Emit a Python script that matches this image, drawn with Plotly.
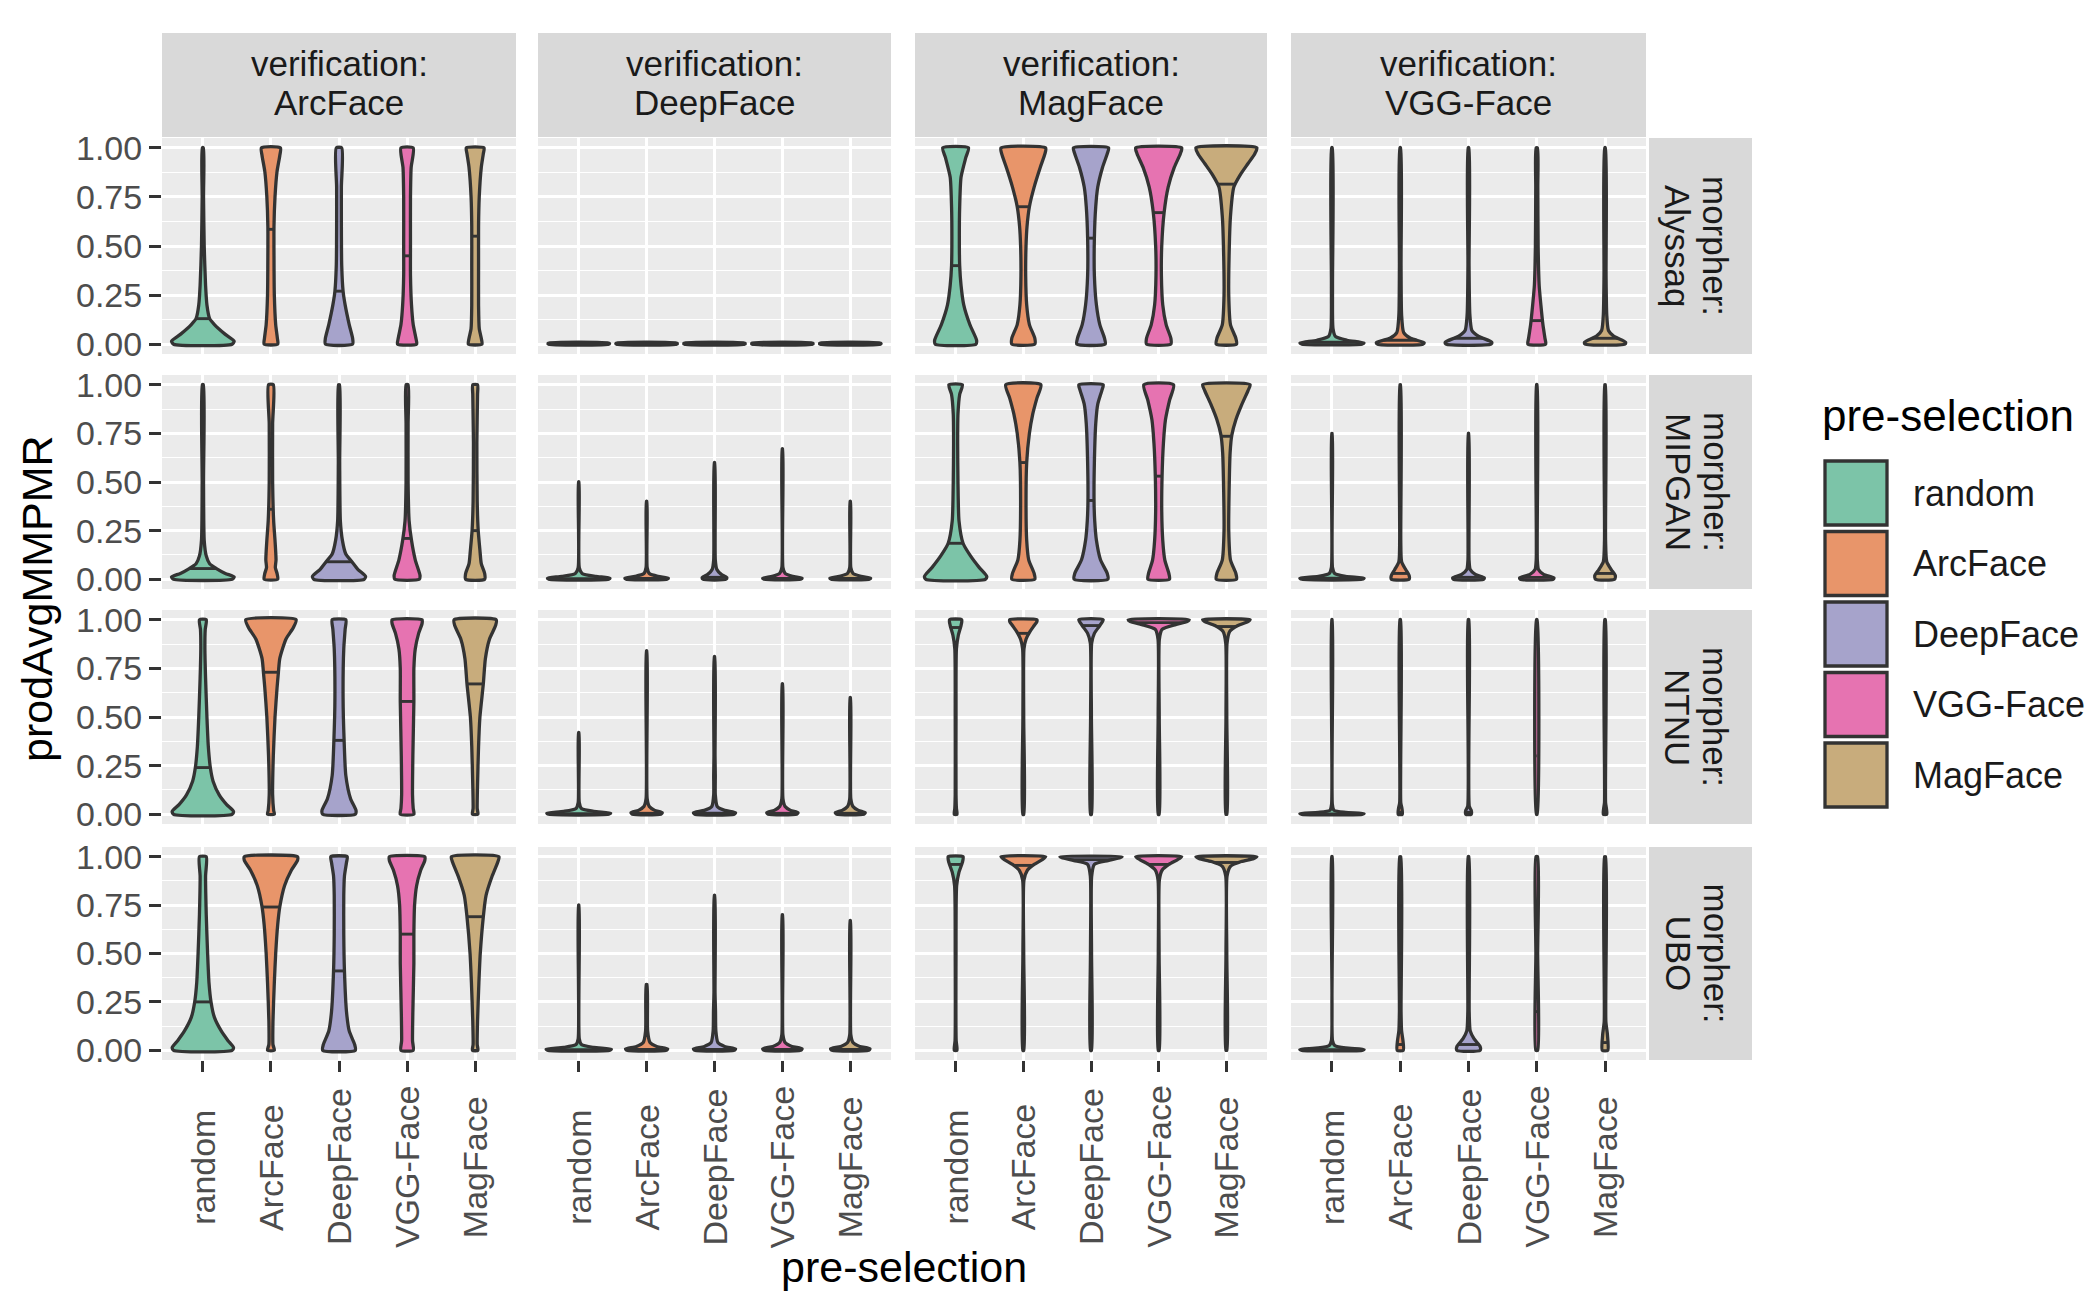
import numpy as np
import plotly.graph_objects as go

# ---------------- data ----------------
PRESEL = ["random", "ArcFace", "DeepFace", "VGG-Face", "MagFace"]
VERIF = ["ArcFace", "DeepFace", "MagFace", "VGG-Face"]
MORPHER = ["Alyssaq", "MIPGAN", "NTNU", "UBO"]
COLORS = ["#7CC4A8", "#E8956A", "#A6A3CB", "#E673B1", "#C8AC7C"]
Y_TICKS = [0, 0.25, 0.5, 0.75, 1.0]
Y_TICK_TEXT = ["0.00", "0.25", "0.50", "0.75", "1.00"]

# violin outlines: [value, half-width] pairs (half-width in category units)
# verification: ArcFace
ARC_ALY = [
    [[0, .43], [.015, .46], [.05, .33], [.1, .17], [.13, .1], [.2, .06], [.3, .04], [.5, .02], [.75, .01], [1, .008]],
    [[0, .1], [.03, .095], [.1, .07], [.25, .05], [.45, .045], [.6, .045], [.75, .06], [.88, .09], [.96, .13], [1, .14]],
    [[0, .2], [.03, .2], [.1, .15], [.2, .09], [.27, .06], [.4, .04], [.6, .035], [.8, .035], [1, .04]],
    [[0, .14], [.03, .13], [.1, .09], [.2, .065], [.35, .05], [.5, .05], [.75, .05], [.9, .06], [1, .09]],
    [[0, .1], [.03, .09], [.08, .06], [.2, .05], [.4, .05], [.6, .05], [.75, .06], [.9, .09], [.97, .12], [1, .13]],
]
ARC_ALY_MED = [0.13, 0.585, 0.27, 0.45, 0.55]
ARC_MIP = [
    [[0, .43], [.012, .46], [.03, .33], [.055, .2], [.08, .1], [.12, .05], [.2, .02], [.5, .01], [1, .008]],
    [[0, .1], [.03, .09], [.06, .065], [.1, .075], [.2, .06], [.3, .04], [.5, .025], [.8, .025], [1, .035]],
    [[0, .37], [.015, .39], [.05, .28], [.09, .19], [.13, .1], [.2, .05], [.3, .02], [.6, .01], [1, .008]],
    [[0, .18], [.02, .19], [.1, .12], [.2, .065], [.3, .03], [.5, .015], [.8, .015], [1, .015]],
    [[0, .14], [.03, .14], [.08, .09], [.15, .07], [.25, .045], [.4, .03], [.7, .025], [.95, .035], [1, .035]],
]
ARC_MIP_MED = [0.055, 0.36, 0.09, 0.21, 0.25]
ARC_NTNU = [
    [[0, .43], [.015, .45], [.05, .35], [.1, .24], [.17, .15], [.24, .11], [.35, .08], [.5, .06], [.7, .04], [.85, .03], [.95, .035], [1, .05]],
    [[0, .05], [.02, .04], [.1, .025], [.3, .035], [.5, .06], [.65, .09], [.73, .11], [.8, .13], [.9, .22], [.96, .33], [1, .37]],
    [[0, .24], [.02, .25], [.08, .17], [.2, .1], [.38, .075], [.6, .06], [.85, .07], [.95, .09], [1, .1]],
    [[0, .1], [.03, .09], [.1, .08], [.3, .085], [.58, .1], [.75, .1], [.85, .12], [.93, .17], [.98, .22], [1, .22]],
    [[0, .04], [.03, .03], [.15, .035], [.35, .05], [.5, .07], [.67, .12], [.8, .15], [.9, .21], [.97, .3], [1, .31]],
]
ARC_NTNU_MED = [0.24, 0.73, 0.38, 0.58, 0.67]
ARC_UBO = [
    [[0, .43], [.015, .45], [.05, .37], [.1, .27], [.17, .17], [.25, .12], [.35, .09], [.5, .07], [.7, .05], [.9, .04], [1, .05]],
    [[0, .05], [.03, .03], [.15, .03], [.35, .05], [.5, .07], [.65, .1], [.74, .13], [.85, .2], [.93, .3], [.98, .39], [1, .39]],
    [[0, .24], [.03, .23], [.1, .15], [.2, .11], [.41, .08], [.6, .07], [.8, .07], [.9, .08], [.97, .11], [1, .12]],
    [[0, .09], [.05, .08], [.2, .085], [.45, .1], [.6, .1], [.75, .11], [.85, .14], [.93, .2], [.98, .26], [1, .26]],
    [[0, .04], [.03, .03], [.15, .035], [.35, .055], [.5, .075], [.69, .12], [.8, .16], [.9, .25], [.97, .33], [1, .35]],
]
ARC_UBO_MED = [0.25, 0.74, 0.41, 0.6, 0.69]

# verification: DeepFace
DEEP_ALY = [
    [[0, .45], [.005, .45]],
    [[0, .45], [.005, .45]],
    [[0, .45], [.005, .45]],
    [[0, .45], [.005, .45]],
    [[0, .45], [.005, .45]],
]
DEEP_ALY_MED = [0, 0, 0, 0, 0]
DEEP_MIP = [
    [[0, .44], [.006, .46], [.015, .25], [.03, .05], [.06, .008], [.5, .004]],
    [[0, .3], [.006, .32], [.015, .17], [.03, .04], [.06, .008], [.4, .004]],
    [[0, .17], [.01, .18], [.025, .1], [.05, .035], [.1, .012], [.6, .004]],
    [[0, .27], [.006, .29], [.015, .15], [.03, .04], [.06, .008], [.67, .004]],
    [[0, .28], [.006, .3], [.015, .16], [.03, .04], [.06, .008], [.4, .004]],
]
DEEP_MIP_MED = [0.003, 0.004, 0.01, 0.004, 0.004]
DEEP_NTNU = [
    [[0, .44], [.006, .47], [.015, .22], [.03, .04], [.06, .008], [.42, .004]],
    [[0, .21], [.008, .23], [.02, .12], [.04, .04], [.08, .008], [.84, .004]],
    [[0, .29], [.008, .31], [.02, .15], [.04, .04], [.1, .012], [.2, .012], [.3, .008], [.81, .004]],
    [[0, .21], [.008, .23], [.02, .12], [.04, .04], [.08, .008], [.67, .004]],
    [[0, .2], [.008, .22], [.02, .12], [.04, .04], [.08, .008], [.6, .004]],
]
DEEP_NTNU_MED = [0.003, 0.005, 0.005, 0.005, 0.005]
DEEP_UBO = [
    [[0, .45], [.006, .48], [.015, .22], [.03, .04], [.06, .008], [.75, .004]],
    [[0, .29], [.008, .31], [.02, .15], [.04, .05], [.1, .015], [.34, .006]],
    [[0, .29], [.008, .31], [.02, .15], [.04, .05], [.1, .02], [.2, .015], [.3, .008], [.8, .004]],
    [[0, .27], [.008, .29], [.02, .14], [.04, .04], [.08, .008], [.7, .004]],
    [[0, .27], [.008, .29], [.02, .14], [.04, .04], [.08, .008], [.67, .004]],
]
DEEP_UBO_MED = [0.003, 0.005, 0.005, 0.005, 0.005]

# verification: MagFace
MAG_ALY = [
    [[0, .3], [.02, .31], [.1, .21], [.2, .12], [.3, .08], [.4, .06], [.55, .055], [.7, .06], [.85, .08], [.95, .15], [1, .19]],
    [[0, .17], [.03, .17], [.1, .09], [.2, .05], [.35, .035], [.5, .04], [.6, .055], [.7, .09], [.8, .16], [.9, .25], [.97, .32], [1, .33]],
    [[0, .21], [.03, .2], [.1, .13], [.2, .08], [.35, .05], [.54, .05], [.7, .07], [.8, .1], [.9, .17], [.97, .24], [1, .26]],
    [[0, .18], [.03, .18], [.1, .11], [.2, .06], [.35, .04], [.5, .045], [.67, .08], [.8, .14], [.9, .23], [.97, .32], [1, .34]],
    [[0, .15], [.03, .14], [.1, .06], [.25, .035], [.45, .04], [.65, .06], [.8, .11], [.86, .2], [.92, .32], [.97, .42], [1, .45]],
]
MAG_ALY_MED = [0.40, 0.70, 0.54, 0.67, 0.815]
MAG_MIP = [
    [[0, .44], [.015, .46], [.06, .35], [.12, .22], [.185, .11], [.3, .05], [.5, .035], [.7, .03], [.85, .035], [.95, .06], [1, .1]],
    [[0, .17], [.03, .16], [.1, .08], [.2, .05], [.4, .04], [.6, .05], [.75, .09], [.85, .14], [.93, .2], [1, .26]],
    [[0, .25], [.03, .24], [.1, .14], [.2, .08], [.3, .055], [.4, .045], [.6, .05], [.8, .07], [.9, .1], [.97, .16], [1, .18]],
    [[0, .16], [.03, .15], [.1, .09], [.2, .06], [.35, .045], [.53, .05], [.7, .07], [.82, .1], [.92, .16], [1, .22]],
    [[0, .15], [.03, .14], [.1, .06], [.25, .035], [.45, .04], [.65, .055], [.74, .08], [.82, .14], [.9, .23], [.97, .32], [1, .35]],
]
MAG_MIP_MED = [0.185, 0.60, 0.405, 0.53, 0.735]
MAG_NTNU = [
    [[0, .02], [.03, .012], [.1, .006], [.5, .006], [.85, .012], [.92, .04], [.97, .08], [1, .09]],
    [[0, .008], [.5, .006], [.85, .01], [.9, .04], [.94, .1], [.97, .16], [.99, .2], [1, .2]],
    [[0, .008], [.5, .006], [.88, .01], [.93, .05], [.97, .13], [1, .18]],
    [[0, .008], [.5, .008], [.9, .01], [.95, .05], [.975, .25], [.99, .42], [1, .45]],
    [[0, .008], [.5, .006], [.88, .01], [.94, .05], [.97, .17], [.99, .32], [1, .35]],
]
MAG_NTNU_MED = [0.96, 0.93, 0.97, 0.985, 0.965]
MAG_UBO = [
    [[0, .02], [.05, .008], [.5, .006], [.85, .015], [.92, .05], [.97, .1], [1, .11]],
    [[0, .008], [.5, .006], [.88, .01], [.93, .06], [.96, .16], [.985, .28], [1, .33]],
    [[0, .008], [.5, .008], [.9, .01], [.96, .05], [.98, .25], [.995, .43], [1, .46]],
    [[0, .008], [.5, .006], [.88, .01], [.93, .05], [.96, .15], [.985, .28], [1, .34]],
    [[0, .008], [.5, .006], [.9, .01], [.95, .06], [.975, .22], [.99, .4], [1, .45]],
]
MAG_UBO_MED = [0.96, 0.955, 0.985, 0.96, 0.97]

# verification: VGG-Face
VGG_ALY = [
    [[0, .44], [.006, .47], [.02, .22], [.04, .05], [.08, .015], [.3, .008], [1, .006]],
    [[0, .33], [.008, .35], [.03, .15], [.06, .05], [.15, .02], [.4, .012], [1, .006]],
    [[0, .33], [.01, .34], [.04, .15], [.07, .05], [.15, .02], [.4, .008], [1, .006]],
    [[0, .13], [.03, .12], [.1, .09], [.2, .06], [.3, .035], [.5, .02], [.8, .015], [1, .01]],
    [[0, .29], [.01, .3], [.04, .13], [.07, .05], [.15, .025], [.35, .015], [1, .006]],
]
VGG_ALY_MED = [0.01, 0.02, 0.03, 0.12, 0.03]
VGG_MIP = [
    [[0, .44], [.006, .47], [.015, .2], [.03, .04], [.06, .008], [.75, .004]],
    [[0, .13], [.02, .13], [.05, .08], [.09, .02], [.2, .008], [1, .005]],
    [[0, .22], [.008, .23], [.025, .1], [.05, .025], [.1, .008], [.75, .004]],
    [[0, .24], [.008, .25], [.025, .1], [.05, .025], [.1, .008], [1, .005]],
    [[0, .14], [.02, .15], [.05, .09], [.09, .025], [.2, .008], [1, .005]],
]
VGG_MIP_MED = [0.005, 0.03, 0.01, 0.01, 0.03]
VGG_NTNU = [
    [[0, .44], [.004, .47], [.01, .2], [.02, .03], [.05, .006], [1, .004]],
    [[0, .03], [.03, .025], [.06, .008], [1, .006]],
    [[0, .04], [.02, .04], [.04, .012], [1, .006]],
    [[0, .006], [1, .005]],
    [[0, .025], [.03, .02], [.06, .008], [1, .006]],
]
VGG_NTNU_MED = [0.002, 0.01, 0.01, 0.3, 0.01]
VGG_UBO = [
    [[0, .44], [.005, .47], [.012, .2], [.025, .04], [.05, .008], [1, .005]],
    [[0, .045], [.05, .04], [.1, .02], [.2, .012], [1, .008]],
    [[0, .17], [.02, .17], [.06, .08], [.1, .025], [.2, .01], [1, .006]],
    [[0, .014], [.5, .013], [1, .012]],
    [[0, .04], [.08, .035], [.15, .012], [1, .008]],
]
VGG_UBO_MED = [0.003, 0.03, 0.03, 0.2, 0.04]

PANELS = {
    ("ArcFace", "Alyssaq"): (ARC_ALY, ARC_ALY_MED), ("ArcFace", "MIPGAN"): (ARC_MIP, ARC_MIP_MED),
    ("ArcFace", "NTNU"): (ARC_NTNU, ARC_NTNU_MED), ("ArcFace", "UBO"): (ARC_UBO, ARC_UBO_MED),
    ("DeepFace", "Alyssaq"): (DEEP_ALY, DEEP_ALY_MED), ("DeepFace", "MIPGAN"): (DEEP_MIP, DEEP_MIP_MED),
    ("DeepFace", "NTNU"): (DEEP_NTNU, DEEP_NTNU_MED), ("DeepFace", "UBO"): (DEEP_UBO, DEEP_UBO_MED),
    ("MagFace", "Alyssaq"): (MAG_ALY, MAG_ALY_MED), ("MagFace", "MIPGAN"): (MAG_MIP, MAG_MIP_MED),
    ("MagFace", "NTNU"): (MAG_NTNU, MAG_NTNU_MED), ("MagFace", "UBO"): (MAG_UBO, MAG_UBO_MED),
    ("VGG-Face", "Alyssaq"): (VGG_ALY, VGG_ALY_MED), ("VGG-Face", "MIPGAN"): (VGG_MIP, VGG_MIP_MED),
    ("VGG-Face", "NTNU"): (VGG_NTNU, VGG_NTNU_MED), ("VGG-Face", "UBO"): (VGG_UBO, VGG_UBO_MED),
}

# ---------------- layout (pixels) ----------------
W, H = 2085, 1297
COL_X = [(162, 516), (538, 891), (915, 1267), (1291, 1646)]
ROW_Y = [(138, 354), (375, 589), (610, 824), (847, 1060)]
TOP_STRIP = (33, 137)
TOP_LINES = (64, 103)
RIGHT_STRIP = (1649, 1752)
RIGHT_LINES = (1716, 1678)
STRIP_BG = "#D9D9D9"
PANEL_BG = "#EBEBEB"
OUTLINE = "#333333"
FONT = "Liberation Sans, Arial, sans-serif"
TICK_FS = 34
STRIP_FS = 35
LEG_FS = 36
TITLE_FS = 43
LW = 3.3


def px(x):
    return x / W


def py(y):
    return 1 - y / H


fig = go.Figure()
shapes = []
annotations = []

for r, morph in enumerate(MORPHER):
    for c, ver in enumerate(VERIF):
        k = r * 4 + c + 1
        xs = "x" if k == 1 else f"x{k}"
        ys = "y" if k == 1 else f"y{k}"
        profiles, meds = PANELS[(ver, morph)]
        for i, prof in enumerate(profiles):
            arr = np.array(prof, dtype=float)
            yv, hw = arr[:, 0], arr[:, 1]
            cx = i + 1
            xpoly = np.concatenate([cx + hw, (cx - hw)[::-1], [cx + hw[0]]])
            ypoly = np.concatenate([yv, yv[::-1], [yv[0]]])
            fig.add_trace(go.Scatter(
                x=xpoly, y=ypoly, xaxis=xs, yaxis=ys, mode="lines",
                fill="toself", fillcolor=COLORS[i],
                line=dict(color=OUTLINE, width=LW, shape="spline", smoothing=0.6),
                showlegend=False, hoverinfo="skip"))
            m = meds[i]
            mw = float(np.interp(m, yv, hw))
            fig.add_trace(go.Scatter(
                x=[cx - mw, cx + mw], y=[m, m], xaxis=xs, yaxis=ys, mode="lines",
                line=dict(color=OUTLINE, width=LW - 0.4), showlegend=False, hoverinfo="skip"))

        x0, x1 = COL_X[c]
        y0, y1 = ROW_Y[r]
        xa = dict(domain=[px(x0), px(x1)], range=[0.4, 5.6], anchor=ys, automargin=False,
                  tickvals=[1, 2, 3, 4, 5], ticktext=PRESEL, showticklabels=False,
                  ticks="outside" if r == 3 else "", ticklen=11, tickwidth=2.8, tickcolor=OUTLINE,
                  showgrid=True, gridcolor="white", gridwidth=2.6,
                  zeroline=False, showline=False, fixedrange=True)
        ya = dict(domain=[py(y1), py(y0)], range=[-0.05, 1.05], anchor=xs, automargin=False,
                  tickvals=Y_TICKS, ticktext=Y_TICK_TEXT, showticklabels=(c == 0),
                  ticks="outside" if c == 0 else "", ticklen=12, tickwidth=2.8, tickcolor=OUTLINE,
                  tickfont=dict(family=FONT, size=TICK_FS, color="#4D4D4D"),
                  showgrid=True, gridcolor="white", gridwidth=2.6,
                  minor=dict(tickvals=[0.125, 0.375, 0.625, 0.875], showgrid=True,
                             gridcolor="white", gridwidth=1.3),
                  zeroline=False, showline=False, fixedrange=True)
        fig.layout["xaxis" if k == 1 else f"xaxis{k}"] = xa
        fig.layout["yaxis" if k == 1 else f"yaxis{k}"] = ya

        # x category labels (bottom row), centred like ggplot
        if r == 3:
            for i, name in enumerate(PRESEL):
                annotations.append(dict(
                    x=i + 1, xref=xs, y=py(1167), yref="paper", text=name,
                    textangle=-90, showarrow=False, xanchor="center", yanchor="middle",
                    font=dict(family=FONT, size=TICK_FS, color="#4D4D4D")))

# top strips
for c, ver in enumerate(VERIF):
    x0, x1 = COL_X[c]
    shapes.append(dict(type="rect", xref="paper", yref="paper",
                       x0=px(x0), x1=px(x1), y0=py(TOP_STRIP[1]), y1=py(TOP_STRIP[0]),
                       fillcolor=STRIP_BG, line=dict(width=0), layer="below"))
    for txt, yl in zip(["verification:", ver], TOP_LINES):
        annotations.append(dict(x=px((x0 + x1) / 2), y=py(yl),
                                xref="paper", yref="paper", showarrow=False,
                                xanchor="center", yanchor="middle", text=txt,
                                font=dict(family=FONT, size=STRIP_FS, color="#1A1A1A")))
# right strips
for r, morph in enumerate(MORPHER):
    y0, y1 = ROW_Y[r]
    shapes.append(dict(type="rect", xref="paper", yref="paper",
                       x0=px(RIGHT_STRIP[0]), x1=px(RIGHT_STRIP[1]), y0=py(y1), y1=py(y0),
                       fillcolor=STRIP_BG, line=dict(width=0), layer="below"))
    for txt, xl in zip(["morpher:", morph], RIGHT_LINES):
        annotations.append(dict(x=px(xl), y=py((y0 + y1) / 2),
                                xref="paper", yref="paper", showarrow=False, textangle=90,
                                xanchor="center", yanchor="middle", text=txt,
                                font=dict(family=FONT, size=STRIP_FS, color="#1A1A1A")))

# axis titles
annotations.append(dict(x=px(37), y=py(599), xref="paper", yref="paper", showarrow=False,
                        textangle=-90, text="prodAvgMMPMR", xanchor="center", yanchor="middle",
                        font=dict(family=FONT, size=TITLE_FS, color="black")))
annotations.append(dict(x=px(904), y=py(1267), xref="paper", yref="paper", showarrow=False,
                        text="pre-selection", xanchor="center", yanchor="middle",
                        font=dict(family=FONT, size=TITLE_FS, color="black")))

# legend (drawn manually)
annotations.append(dict(x=px(1820), y=py(415), xref="paper", yref="paper", showarrow=False,
                        xanchor="left", yanchor="middle", text="pre-selection",
                        font=dict(family=FONT, size=TITLE_FS + 1, color="black")))
KEY_X = (1825, 1887)
KEY_TOP = 461
KEY_STEP = 70.5
KEY_SIZE = 64
for i, name in enumerate(PRESEL):
    top = KEY_TOP + i * KEY_STEP
    shapes.append(dict(type="rect", xref="paper", yref="paper",
                       x0=px(KEY_X[0]), x1=px(KEY_X[1]), y0=py(top + KEY_SIZE), y1=py(top),
                       fillcolor=COLORS[i], line=dict(color=OUTLINE, width=LW)))
    annotations.append(dict(x=px(1911), y=py(top + KEY_SIZE / 2), xref="paper", yref="paper",
                            showarrow=False, xanchor="left", yanchor="middle", text=name,
                            font=dict(family=FONT, size=LEG_FS, color="#1A1A1A")))

fig.update_layout(
    width=W, height=H, margin=dict(l=0, r=0, t=0, b=0, autoexpand=False),
    paper_bgcolor="white", plot_bgcolor=PANEL_BG,
    shapes=shapes, annotations=annotations, showlegend=False,
    font=dict(family=FONT),
)

fig.write_html("out.html", config={"displayModeBar": False},
               post_script="document.body.style.margin='0px'; document.body.style.overflow='hidden';")
